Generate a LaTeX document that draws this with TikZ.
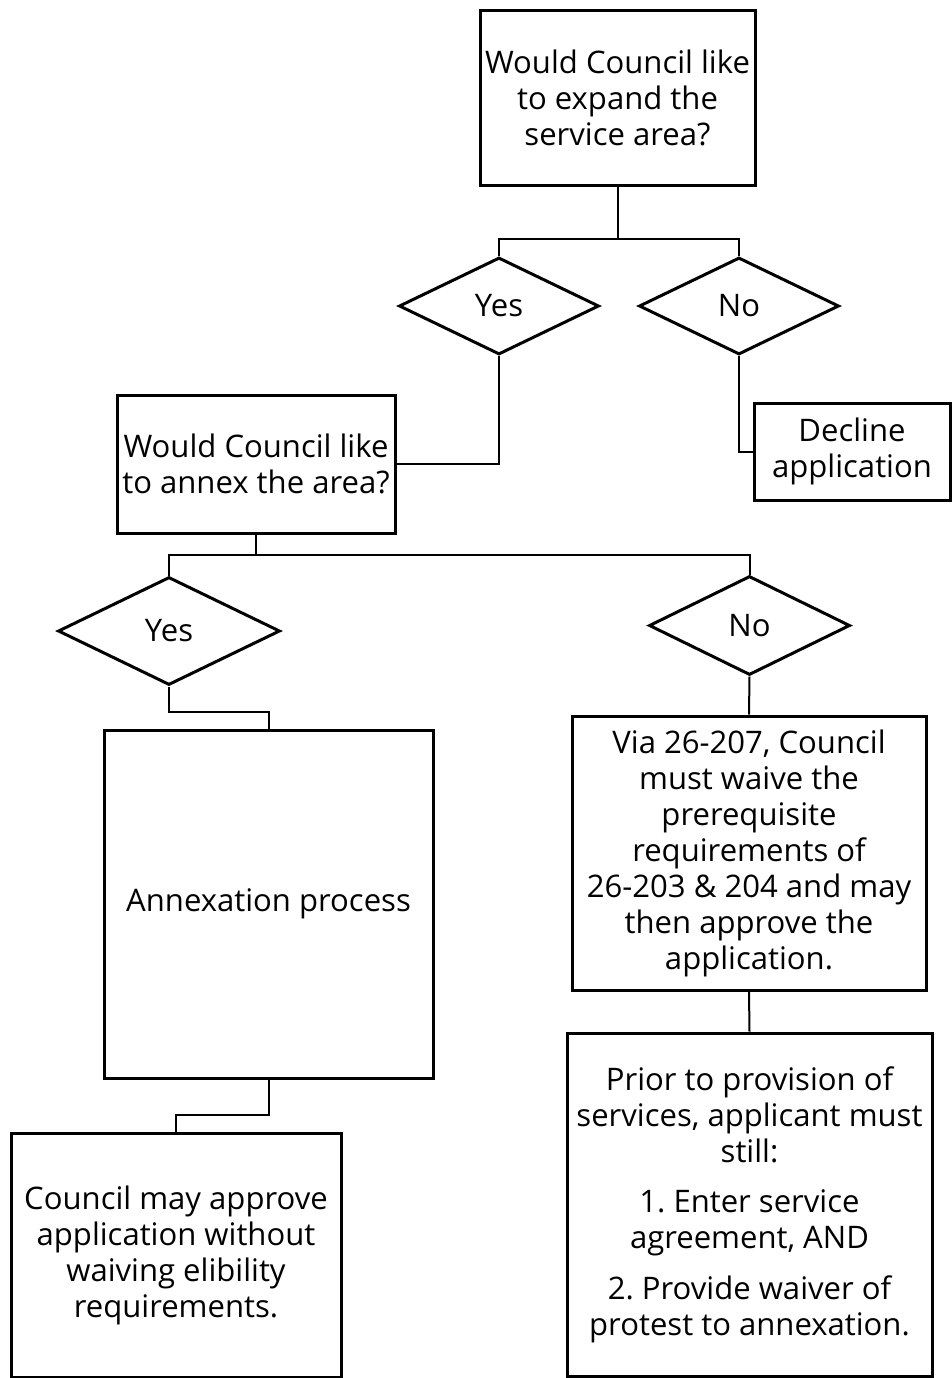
\documentclass[tikz,border=0pt]{standalone}
\usepackage{fontspec}
\setmainfont{Open Sans}
\usetikzlibrary{shapes.geometric}
\frenchspacing
\def\pxu{0.75pt}
\tikzset{
  box/.style={draw, line width=2.25pt, rectangle, inner sep=0pt, align=center,
    font=\fontsize{23.3}{27}\selectfont},
  dia/.style={draw, line width=2.25pt, diamond, inner sep=0pt, align=center,
    font=\fontsize{23.3}{27}\selectfont},
  conn/.style={draw, line width=1.5pt},
}
\begin{document}
\begin{tikzpicture}[x=0.75pt, y=-0.75pt]
\useasboundingbox[fill=white] (0,0) rectangle (952,1378);

\node[box, minimum width=275*\pxu, minimum height=175*\pxu] (q1) at (617.5,97.5)
  {Would Council like\\to expand the\\service area?};
\node[dia, minimum width=200*\pxu, minimum height=97*\pxu] (yes1) at (499,306) {Yes};
\node[dia, minimum width=200*\pxu, minimum height=97*\pxu] (no1) at (739,306) {No};
\node[box, minimum width=278*\pxu, minimum height=138*\pxu] (q2) at (256,464)
  {Would Council like\\to annex the area?};
\node[box, minimum width=196*\pxu, minimum height=97*\pxu] (decl) at (852,451.5)
  {Decline\\application};
\node[dia, minimum width=222*\pxu, minimum height=108*\pxu] (yes2) at (169,631) {Yes};
\node[dia, minimum width=201*\pxu, minimum height=99*\pxu] (no2) at (749.5,625.5) {No};
\node[box, minimum width=329*\pxu, minimum height=348*\pxu] (annex) at (268.5,904)
  {Annexation process};
\node[box, minimum width=354*\pxu, minimum height=274*\pxu] (via) at (749,853)
  {Via 26-207, Council\\must waive the\\prerequisite\\requirements of\\26-203 \& 204 and may\\then approve the\\application.};
\node[box, minimum width=330*\pxu, minimum height=244*\pxu] (appr) at (176,1255)
  {Council may approve\\application without\\waiving elibility\\requirements.};
\node[box, minimum width=365*\pxu, minimum height=343*\pxu] (prior) at (749.5,1204.5)
  {Prior to provision of\\services, applicant must\\still:\\[11pt]1. Enter service\\agreement, AND\\[11pt]2. Provide waiver of\\protest to annexation.};

\draw[conn] (q1.south) -- ++(0,52) coordinate (j1);
\draw[conn] (yes1.north) |- (j1) -| (no1.north);
\draw[conn] (yes1.south) |- (q2.east);
\draw[conn] (no1.south) |- (decl.west);
\draw[conn] (q2.south) -- ++(0,20) coordinate (j2);
\draw[conn] (yes2.north) |- (j2) -| (no2.north);
\draw[conn] (yes2.south) -- ++(0,25) -| (annex.north);
\draw[conn] (annex.south) -- ++(0,35) -| (appr.north);
\draw[conn] (no2.south) -- (via.north);
\draw[conn] (via.south) -- (prior.north);
\end{tikzpicture}
\end{document}
